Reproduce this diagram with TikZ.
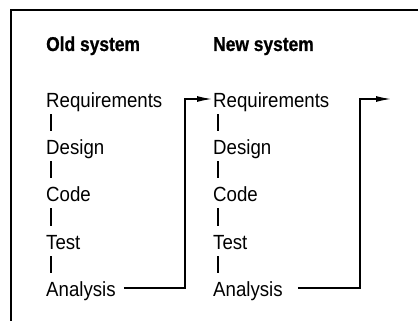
\documentclass[tikz,border=0pt]{standalone}
\usepackage{fontspec}
\setmainfont{Liberation Sans}
\newfontfamily\bodyfont[FakeStretch=0.91]{Liberation Sans}
\newfontfamily\headfont[FakeStretch=0.87,FakeBold=0.8]{Liberation Sans Bold}
\usetikzlibrary{arrows.meta}
\begin{document}
\begin{tikzpicture}[x=1pt,y=-1pt,
  lbl/.style={inner sep=0pt,anchor=base west,text height=15pt,text depth=4pt,font=\bodyfont\fontsize{20.5}{22}\selectfont},
  head/.style={inner sep=0pt,anchor=base west,font=\headfont\fontsize{20}{22}\selectfont},
  bar/.style={line width=1.3pt,shorten <=3pt,shorten >=8pt},
  conn/.style={line width=1.3pt},
  arr/.style={conn,-{Latex[length=15pt,width=6pt]}},
  frame/.style={line width=2pt}]
\useasboundingbox (0,0) rectangle (418,321);
% frame
\draw[frame] (11,321) -- (11,10) -- (418,10);
% headings
\node[head] (ho) at (46,51) {Old system};
\node[head] (hn) at (213,51) {New system};
% old column
\node[lbl] (o1) at (46,107) {Requirements};
\node[lbl] (o2) at (46,154) {Design};
\node[lbl] (o3) at (46,201) {Code};
\node[lbl] (o4) at (46,249) {Test};
\node[lbl] (o5) at (46,296) {Analysis};
% new column
\node[lbl] (n1) at (213,107) {Requirements};
\node[lbl] (n2) at (213,154) {Design};
\node[lbl] (n3) at (213,201) {Code};
\node[lbl] (n4) at (213,249) {Test};
\node[lbl] (n5) at (213,296) {Analysis};
% bars
\foreach \c in {o,n}{
  \foreach \a/\b in {1/2,2/3,3/4,4/5}{
    \draw[bar] ([xshift=5pt]\c\a.south west) -- ([xshift=5pt]\c\b.north west);
  }
}
% connectors
\coordinate (c1) at (185,99);
\coordinate (c2) at (360,99);
\coordinate (t2) at (391,99);
\draw[arr] ([xshift=8pt,yshift=2.5pt]o5.east) -| (c1) -- ([xshift=-1pt,yshift=2.5pt]n1.west);
\draw[arr] ([xshift=15pt,yshift=2.5pt]n5.east) -| (c2) -- (t2);
\end{tikzpicture}
\end{document}
